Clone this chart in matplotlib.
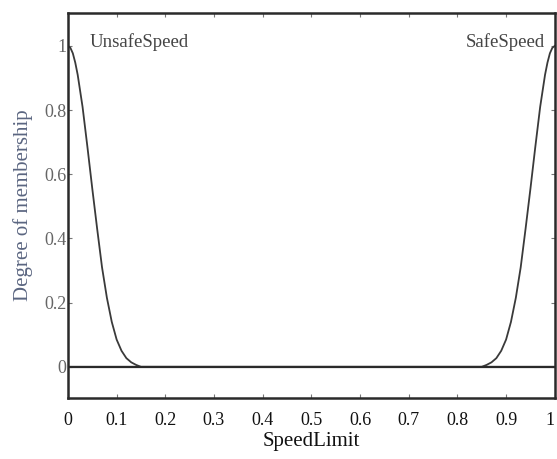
import matplotlib.pyplot as plt

# membership curves
unsafe_x = [0.0, 0.005, 0.01, 0.015, 0.02, 0.03, 0.04, 0.05, 0.06, 0.07, 0.08,
            0.09, 0.10, 0.11, 0.12, 0.13, 0.14, 0.15, 1.0]
unsafe_y = [1.0, 0.994, 0.977, 0.948, 0.91, 0.81, 0.685, 0.555, 0.43, 0.31, 0.215,
            0.14, 0.085, 0.05, 0.027, 0.014, 0.006, 0.0, 0.0]

safe_x = [0.0, 0.85, 0.86, 0.87, 0.88, 0.89, 0.90, 0.91, 0.92, 0.93, 0.94,
          0.95, 0.96, 0.97, 0.98, 0.985, 0.99, 0.995, 1.0]
safe_y = [0.0, 0.0, 0.006, 0.014, 0.027, 0.05, 0.085, 0.14, 0.215, 0.31, 0.43,
          0.555, 0.685, 0.81, 0.91, 0.948, 0.977, 0.994, 1.0]

x_ticks = [0, 0.1, 0.2, 0.3, 0.4, 0.5, 0.6, 0.7, 0.8, 0.9, 1]
x_tick_labels = ["0", "0.1", "0.2", "0.3", "0.4", "0.5", "0.6", "0.7", "0.8", "0.9", "1"]
y_ticks = [0, 0.2, 0.4, 0.6, 0.8, 1]
y_tick_labels = ["0", "0.2", "0.4", "0.6", "0.8", "1"]

plt.rcParams["font.family"] = ["Liberation Serif", "DejaVu Serif"]

fig = plt.figure(figsize=(5.57, 4.59), dpi=100)
ax = fig.add_axes([0.122, 0.133, 0.874, 0.839])

ax.plot(unsafe_x, unsafe_y, color="#3a3a3a", lw=1.3)
ax.plot(safe_x, safe_y, color="#3a3a3a", lw=1.3)
ax.axhline(0, color="#2a2a2a", lw=1.6)

ax.text(0.045, 1.012, "UnsafeSpeed", fontsize=13.5, color="#444444", va="center", ha="left")
ax.text(0.98, 1.012, "SafeSpeed", fontsize=13.5, color="#444444", va="center", ha="right")

ax.set_xlim(0, 1)
ax.set_ylim(-0.097, 1.103)
ax.set_xticks(x_ticks)
ax.set_xticklabels(x_tick_labels)
ax.set_yticks(y_ticks)
ax.set_yticklabels(y_tick_labels)
ax.tick_params(direction="in", top=True, right=True, length=3, width=0.8, colors="#777777")
ax.tick_params(axis="x", labelcolor="#111111", labelsize=13, pad=10)
ax.tick_params(axis="y", labelcolor="#666666", labelsize=13, pad=1)
# last label sits right at the figure edge, keep it inside
ax.get_xticklabels()[-1].set_horizontalalignment("right")

for s in ax.spines.values():
    s.set_linewidth(1.8)
    s.set_color("#2a2a2a")

ax.set_xlabel("SpeedLimit", fontsize=15, color="#111111", labelpad=2)
ax.set_ylabel("Degree of membership", fontsize=15, color="#5a6580", labelpad=8)

fig.savefig("out.png", dpi=100)
plt.close(fig)
